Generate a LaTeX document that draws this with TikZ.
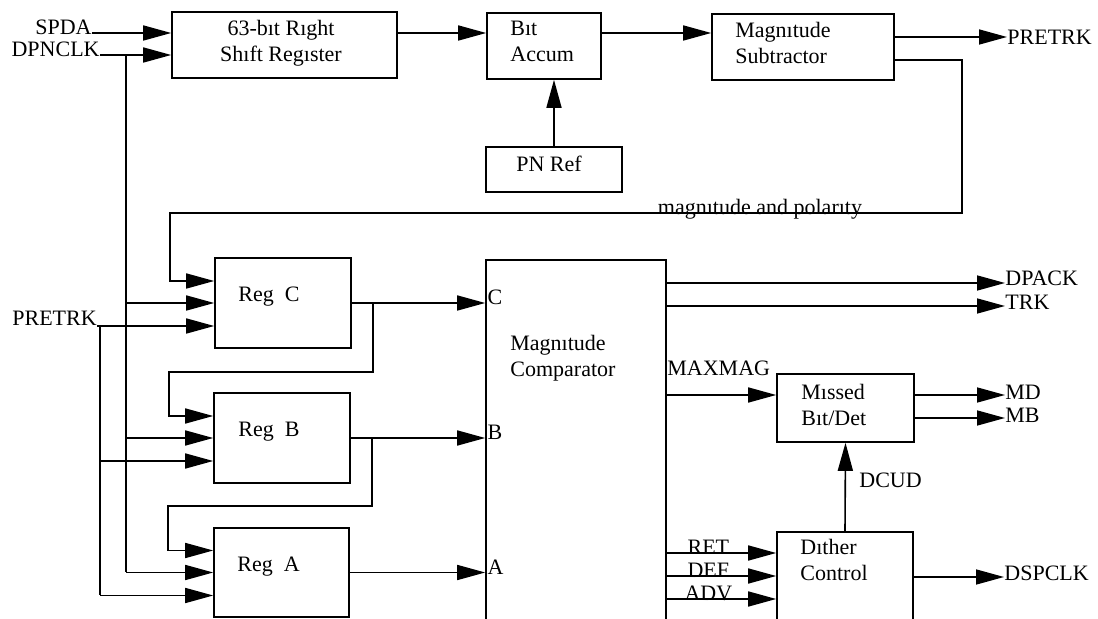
\documentclass[tikz,border=0pt]{standalone}
\usepackage{fontspec}
\setmainfont{Liberation Serif}
\usepackage{tikz}
\usetikzlibrary{arrows.meta, positioning, fit, calc}
\tikzset{
  blk/.style={rectangle, draw, line width=0.8pt, inner sep=0pt},
  lbl/.style={font=\fontsize{11}{13}\selectfont, inner sep=0pt, align=left},
  arr/.style={-{Triangle[length=14pt,width=7.5pt]}, line width=0.8pt},
  wire/.style={line width=0.8pt},
}
\begin{document}
\begin{tikzpicture}[x=0.5pt,y=-0.5pt]
\clip (0,0) rectangle (1098,619);
% blocks
\node[blk, fit={(172,12) (397,78)}] (sr) {};
\node[blk, fit={(487,13) (601,79)}] (acc) {};
\node[blk, fit={(486,147) (622,192)}] (pn) {};
\node[blk, fit={(712,14) (894,80)}] (sub) {};
\node[blk, fit={(215,258) (351,348)}] (regC) {};
\node[blk, fit={(214,393) (350,483)}] (regB) {};
\node[blk, fit={(214,528) (349,617)}] (regA) {};
\node[blk, fit={(486,260) (666,640)}] (cmp) {};
\node[blk, fit={(777,374) (914,442)}] (mis) {};
\node[blk, fit={(777,532) (913,640)}] (dit) {};
\node[lbl, align=center] (srT) at (281,43) {63-bıt Rıght\\Shıft Regıster};
\node[lbl, anchor=west] (accT) at (510,41) {Bıt\\Accum};
\node[lbl] (pnT) at (549,164) {PN Ref};
\node[lbl, anchor=west] (subT) at (735,43) {Magnıtude\\Subtractor};
\node[lbl, anchor=west] (regCT) at (238,297) {Reg~~C};
\node[lbl, anchor=west] (regBT) at (238,432) {Reg~~B};
\node[lbl, anchor=west] (regAT) at (237,567) {Reg~~A};
\node[lbl, anchor=west] (cmpT) at (510,358) {Magnıtude\\Comparator};
\node[lbl, anchor=west] (misT) at (801,405) {Mıssed\\Bıt/Det};
\node[lbl, anchor=west] (ditT) at (800,560) {Dıther\\Control};
% signal names
\node[lbl, anchor=east] (spda) at (92,27) {SPDA};
\node[lbl, anchor=east] (dpnclk) at (100,49) {DPNCLK};
\node[lbl, anchor=west] (pretrkL) at (12,318) {PRETRK};
\node[lbl, anchor=west] (pretrkR) at (1007,37) {PRETRK};
\node[lbl, anchor=base] (magpol) at (760,215) {magnıtude and polarıty};
\node[lbl, anchor=west] (dpack) at (1005,278) {DPACK};
\node[lbl, anchor=west] (trk) at (1005,302) {TRK};
\node[lbl, anchor=west] (maxmag) at (667,368) {MAXMAG};
\node[lbl, anchor=west] (md) at (1005,392) {MD};
\node[lbl, anchor=west] (mb) at (1005,415) {MB};
\node[lbl, anchor=west] (dcud) at (859,480) {DCUD};
\node[lbl, anchor=west] (dspclk) at (1004,573) {DSPCLK};
% top chain
\draw[arr] (spda.east |- 0,33) -- (sr.west |- 0,33);
\draw[arr] (dpnclk.east |- 0,55) -- (sr.west |- 0,55);
\draw[arr] (sr.east |- 0,33) -- (acc.west |- 0,33);
\draw[arr] (acc.east |- 0,33) -- (sub.west |- 0,33);
\draw[arr] (pn.north) -- (pn.north |- acc.south);
\draw[arr] (sub.east |- 0,37) -- (pretrkR.west |- 0,37);
% register inputs
\coordinate (clkbus) at (126,55);
\coordinate (prebus) at (100,326);
\foreach \r in {regC,regB,regA}{
  \coordinate (\r-p) at ($(\r.west)+(0,23)$);
  \coordinate (\r-f) at ($(\r.west)+(0,-22)$);
  \draw[arr] (clkbus |- \r.west) -- (\r.west);
  \draw[arr] (\r.east) -- (cmp.west |- \r.east);
}
\draw[wire] (clkbus) -- (clkbus |- regA.west);
\draw[arr] (pretrkL.east |- regC-p) -- (regC-p);
\draw[wire] (prebus) -- (prebus |- regA-p);
\draw[arr] (prebus |- regB-p) -- (regB-p);
\draw[arr] (prebus |- regA-p) -- (regA-p);
\draw[arr] (sub.east |- 0,60) -- (962,60) -- (962,213) -- (170,213) |- (regC-f);
\draw[arr] (373,303) -- (373,372) -- (169,372) |- (regB-f);
\draw[arr] (372,438) -- (372,506) -- (168,506) |- (regA-f);
\node[lbl, anchor=base west] (inC) at ([xshift=1pt,yshift=-1pt]cmp.west |- regC.east) {C};
\node[lbl, anchor=base west] (inB) at ([xshift=1pt,yshift=-1pt]cmp.west |- regB.east) {B};
\node[lbl, anchor=base west] (inA) at ([xshift=1pt,yshift=-1pt]cmp.west |- regA.east) {A};
% comparator outputs
\draw[arr] (cmp.east |- 0,283) -- (dpack.west |- 0,283);
\draw[arr] (cmp.east |- 0,306) -- (trk.west |- 0,306);
\draw[arr] (cmp.east |- 0,395) -- (mis.west |- 0,395);
\foreach \s/\y in {RET/553,DEF/576,ADV/599}
  \draw[arr] (cmp.east |- 0,\y) -- (dit.west |- 0,\y)
    node[lbl, pos=0.38, anchor=base, yshift=-1pt] (\s) {\s};
\draw[arr] (mis.east |- 0,395) -- (md.west |- 0,395);
\draw[arr] (mis.east |- 0,418) -- (mb.west |- 0,418);
\draw[arr] (dit.north) -- (mis.south);
\draw[arr] (dit.east |- 0,577) -- (dspclk.west |- 0,577);
\end{tikzpicture}
\end{document}
